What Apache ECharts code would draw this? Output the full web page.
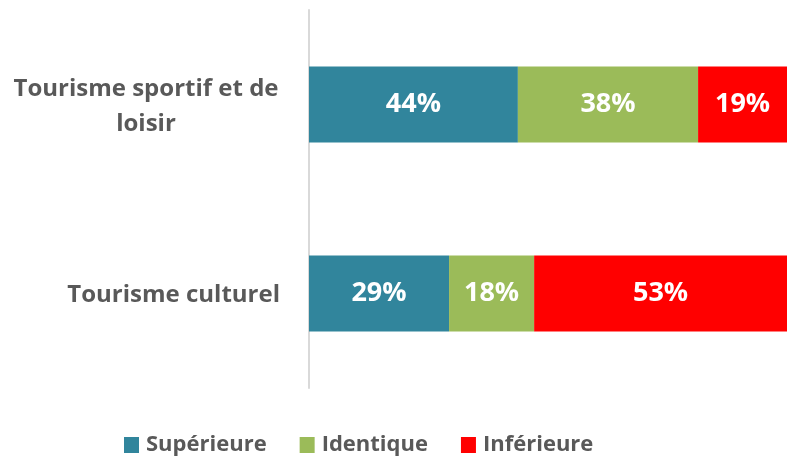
<!DOCTYPE html>
<html>
<head>
<meta charset="utf-8">
<script src="https://cdn.jsdelivr.net/npm/echarts@6/dist/echarts.min.js"></script>
<style>
  html, body { margin: 0; padding: 0; background: #fff; }
  #chart { width: 787px; height: 457px; }
</style>
</head>
<body>
<div id="chart"></div>
<script>
// catégories (de haut en bas)
var categories = ['Tourisme sportif et de loisir', 'Tourisme culturel'];
var seriesNames = ['Supérieure', 'Identique', 'Inférieure'];
// parts en %
var superieure = [43.7, 29.3];
var identique = [37.7, 17.8];
var inferieure = [18.6, 52.9];
var colors = ['#31859C', '#9BBB59', '#FF0000'];

var font = '"Open Sans", "Noto Sans", sans-serif';
var textGrey = '#595959';

function makeSeries(name, data, color) {
	return {
		name: name,
		type: 'bar',
		stack: 'total',
		barWidth: 76,
		data: data,
		itemStyle: { color: color },
		label: {
			show: true,
			position: 'inside',
			color: '#fff',
			fontFamily: font,
			fontWeight: 'bold',
			fontSize: 27,
			formatter: function (p) { return Math.round(p.value) + '%'; }
		}
	};
}

// retour à la ligne comme dans Excel : lignes centrées entre elles
function wrapLabel(value) {
	var words = value.split(' ');
	var lines = [];
	var cur = '';
	for (var i = 0; i < words.length; i++) {
		var test = cur ? cur + ' ' + words[i] : words[i];
		if (test.length > 22 && cur) {
			lines.push(cur);
			cur = words[i];
		} else {
			cur = test;
		}
	}
	lines.push(cur);
	if (lines.length == 1) return '{r|' + lines[0] + '}';
	return lines.map(function (l) { return '{c|' + l + '}'; }).join('\n');
}

var labelStyle = {
	color: textGrey,
	fontFamily: font,
	fontWeight: 'bold',
	fontSize: 24,
	lineHeight: 35
};

var myChart = echarts.init(document.getElementById('chart'));
var option = {
	animation: false,
	color: colors,
	grid: { left: 309, right: 0, top: 10, bottom: 69 },
	legend: {
		data: seriesNames,
		left: 124,
		top: 434,
		padding: 0,
		icon: 'rect',
		itemWidth: 15,
		itemHeight: 16,
		itemGap: 33,
		textStyle: {
			color: textGrey,
			fontFamily: font,
			fontWeight: 'bold',
			fontSize: 22,
			padding: [0, 0, 0, 2]
		}
	},
	xAxis: {
		type: 'value',
		min: 0,
		max: 100,
		show: false
	},
	yAxis: {
		type: 'category',
		inverse: true,
		data: categories,
		axisTick: { show: false },
		axisLine: { lineStyle: { color: '#d9d9d9', width: 2 } },
		axisLabel: {
			margin: 29,
			align: 'right',
			padding: [4, 0, 0, 0],
			formatter: wrapLabel,
			color: textGrey,
			fontFamily: font,
			fontWeight: 'bold',
			fontSize: 24,
			lineHeight: 35,
			rich: {
				c: Object.assign({ width: 268, align: 'center' }, labelStyle),
				r: Object.assign({}, labelStyle)
			}
		}
	},
	series: [
		makeSeries(seriesNames[0], superieure, colors[0]),
		makeSeries(seriesNames[1], identique, colors[1]),
		makeSeries(seriesNames[2], inferieure, colors[2])
	]
};
myChart.setOption(option);
</script>
</body>
</html>
